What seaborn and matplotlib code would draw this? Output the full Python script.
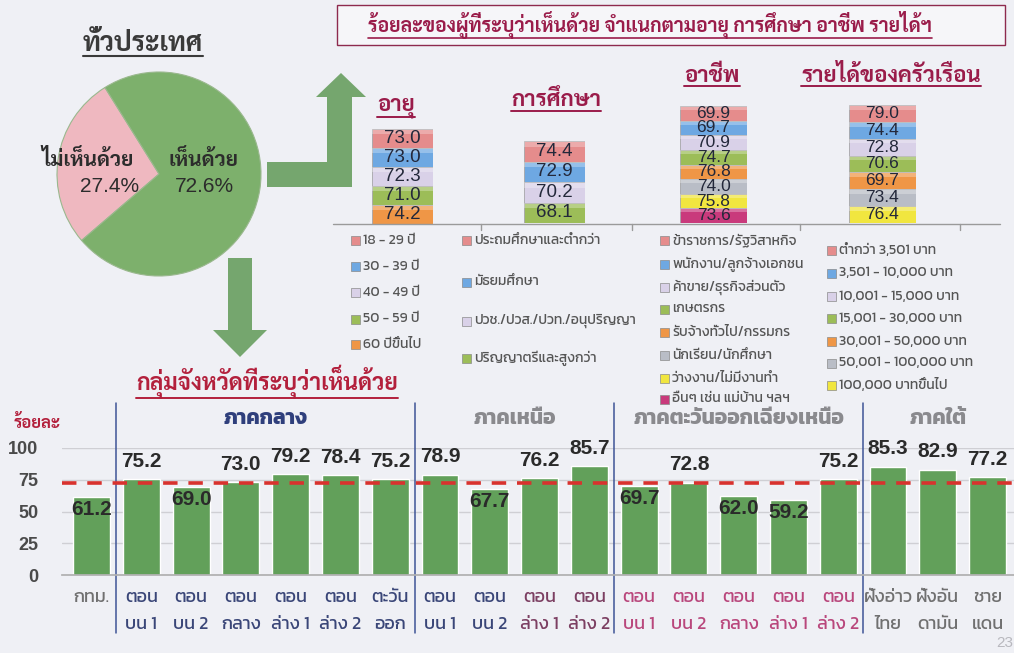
import matplotlib
matplotlib.use("Agg")
import matplotlib.pyplot as plt
import matplotlib.patches as mpatches
import matplotlib.transforms as mtransforms
from matplotlib import font_manager
import numpy as np
import pandas as pd
import seaborn as sns

# ---------------- data ----------------
pie_labels = ["เห็นด้วย", "ไม่เห็นด้วย"]
pie_values = [72.6, 27.4]

age_groups = ["18 - 29 ปี", "30 - 39 ปี", "40 - 49 ปี", "50 - 59 ปี", "60 ปีขึ้นไป"]
age_values = [73.0, 73.0, 72.3, 71.0, 74.2]

edu_groups = ["ประถมศึกษาและต่ำกว่า", "มัธยมศึกษา",
              "ปวช./ปวส./ปวท./อนุปริญญา", "ปริญญาตรีและสูงกว่า"]
edu_values = [74.4, 72.9, 70.2, 68.1]

occ_groups = ["ข้าราชการ/รัฐวิสาหกิจ", "พนักงาน/ลูกจ้างเอกชน", "ค้าขาย/ธุรกิจส่วนตัว",
              "เกษตรกร", "รับจ้างทั่วไป/กรรมกร", "นักเรียน/นักศึกษา",
              "ว่างงาน/ไม่มีงานทำ", "อื่นๆ เช่น แม่บ้าน ฯลฯ"]
occ_values = [69.9, 69.7, 70.9, 74.7, 76.8, 74.0, 75.8, 73.6]

inc_groups = ["ต่ำกว่า 3,501 บาท", "3,501 - 10,000 บาท", "10,001 - 15,000 บาท",
              "15,001 - 30,000 บาท", "30,001 - 50,000 บาท", "50,001 - 100,000 บาท",
              "100,000 บาทขึ้นไป"]
inc_values = [79.0, 74.4, 72.8, 70.6, 69.7, 73.4, 76.4]

province_groups = ["กทม.",
                   "ตอน\nบน 1", "ตอน\nบน 2", "ตอน\nกลาง", "ตอน\nล่าง 1", "ตอน\nล่าง 2", "ตะวัน\nออก",
                   "ตอน\nบน 1", "ตอน\nบน 2", "ตอน\nล่าง 1", "ตอน\nล่าง 2",
                   "ตอน\nบน 1", "ตอน\nบน 2", "ตอน\nกลาง", "ตอน\nล่าง 1", "ตอน\nล่าง 2",
                   "ฝั่งอ่าว\nไทย", "ฝั่งอัน\nดามัน", "ชาย\nแดน"]
province_region = ["กรุงเทพฯ"] + ["ภาคกลาง"] * 6 + ["ภาคเหนือ"] * 4 + \
                  ["ภาคตะวันออกเฉียงเหนือ"] * 5 + ["ภาคใต้"] * 3
province_values = [61.2, 75.2, 69.0, 73.0, 79.2, 78.4, 75.2,
                   78.9, 67.7, 76.2, 85.7,
                   69.7, 72.8, 62.0, 59.2, 75.2,
                   85.3, 82.9, 77.2]
region_names = ["ภาคกลาง", "ภาคเหนือ", "ภาคตะวันออกเฉียงเหนือ", "ภาคใต้"]
national_avg = pie_values[0]

# ---------------- style ----------------
sns.set_theme(style="white")
installed = {f.name for f in font_manager.fontManager.ttflist}


def pick(cands, fallback="DejaVu Sans"):
    for c in cands:
        if c in installed:
            return c
    return fallback


THAI_LOOP = pick(["Sarabun", "Noto Sans Thai Looped", "Niramit", "K2D", "Bai Jamjuree"])
THAI_PLAIN = pick(["Kanit", "Prompt", "Noto Sans Thai", "Mitr", "Bai Jamjuree"])
LATIN = "Liberation Sans"
plt.rcParams["font.family"] = [THAI_PLAIN, "DejaVu Sans"]

W, H = 1014, 653
BG = "#EFF0F5"
MAROON = "#9A1C4A"
NAVY = "#2F3F7C"
GREEN = "#62A05A"
CELL = ["#E58C8C", "#6EA8E2", "#D9D1E8", "#9CBD58", "#EF9646", "#B9BDC6", "#F1E63F", "#C93A7C"]

fig = plt.figure(figsize=(W / 100, H / 100), dpi=100, facecolor=BG)


def fx(x):
    return x / W


def fy(y):
    return 1 - y / H


underlined = []

# ---------------- national pie ----------------
t = fig.text(fx(143), fy(44), "ทั่วประเทศ", ha="center", va="center", fontsize=19,
             fontweight="bold", color="#3A3A3A", family=[THAI_LOOP, "DejaVu Sans"])
underlined.append((t, "#3A3A3A", 1.5))

r_px = 102
ax_pie = fig.add_axes([fx(159 - r_px), fy(174 + r_px), 2 * r_px / W, 2 * r_px / H])
ax_pie.set_facecolor("none")
ax_pie.pie([pie_values[1], pie_values[0]], colors=["#EFB8C0", "#7DB06C"],
           startangle=122, counterclock=True, radius=1,
           wedgeprops=dict(edgecolor="#9AB88E", linewidth=0.8))
ax_pie.set_xlim(-1, 1)
ax_pie.set_ylim(-1, 1)
ax_pie.set_aspect("auto")
ax_pie.axis("off")

for (lab, val, x, xn) in [(pie_labels[1], pie_values[1], 88, 110),
                          (pie_labels[0], pie_values[0], 203, 204)]:
    fig.text(fx(x), fy(160), lab, ha="center", va="center", fontsize=15, fontweight="bold",
             color="#2C2C2C", family=[THAI_LOOP, "DejaVu Sans"])
    fig.text(fx(xn), fy(186), f"{val:.1f}%", ha="center", va="center", fontsize=15,
             color="#2C2C2C", family=[LATIN])

# ---------------- arrows ----------------
up_arrow = [(267, 162), (327, 162), (327, 97), (316, 97), (341, 73), (366, 97),
            (352, 97), (352, 187), (267, 187)]
down_arrow = [(228, 258), (252, 258), (252, 330), (267, 330), (240, 357), (213, 330), (228, 330)]
for poly in (up_arrow, down_arrow):
    fig.patches.append(mpatches.Polygon([(fx(a), fy(b)) for a, b in poly], closed=True,
                                        transform=fig.transFigure, facecolor="#6EA267",
                                        edgecolor="none", alpha=0.95))

# ---------------- breakdown title ----------------
fig.patches.append(mpatches.Rectangle((fx(337), fy(45)), (1005 - 337) / W, 40 / H,
                                      transform=fig.transFigure, facecolor="#F6F6F9",
                                      edgecolor="#8E2A4E", linewidth=1.0))
t = fig.text(fx(650), fy(25), "ร้อยละของผู้ที่ระบุว่าเห็นด้วย จำแนกตามอายุ การศึกษา อาชีพ รายได้ฯ",
             ha="center", va="center", fontsize=14, fontweight="bold", color=MAROON,
             family=[THAI_LOOP, "DejaVu Sans"])
underlined.append((t, MAROON, 1.2))

# ---------------- stacked value cells ----------------
stacks = [
    ("อายุ", age_groups, age_values, (372, 433, 129, 224), (396, 107)),
    ("การศึกษา", edu_groups, edu_values, (524, 585, 141, 223), (556, 101)),
    ("อาชีพ", occ_groups, occ_values, (680, 747, 106, 223), (712, 76)),
    ("รายได้ของครัวเรือน", inc_groups, inc_values, (849, 916, 105, 223), (891, 76)),
]
for title, groups, values, (x0, x1, y0, y1), (tx, ty) in stacks:
    t = fig.text(fx(tx), fy(ty), title, ha="center", va="center", fontsize=16,
                 fontweight="bold", color=MAROON, family=[THAI_LOOP, "DejaVu Sans"])
    underlined.append((t, MAROON, 1.4))
    ax = fig.add_axes([fx(x0), fy(y1), (x1 - x0) / W, (y1 - y0) / H])
    ax.set_facecolor("none")
    n = len(values)
    fs = 13.5 if n <= 5 else 12.5
    # group 0 sits on top of the column
    for k, (g, v) in enumerate(zip(groups, values)):
        level = n - 1 - k
        ax.bar(0, 1, bottom=level, width=1, color=CELL[k], edgecolor="#A5A5A8", linewidth=0.6)
        ax.bar(0, 0.28, bottom=level + 0.72, width=1, color="white", alpha=0.28, linewidth=0)
        ax.text(0, level + 0.5, f"{v:.1f}", ha="center", va="center", fontsize=fs,
                color="#23283A", family=[LATIN])
    ax.set_xlim(-0.5, 0.5)
    ax.set_ylim(0, n)
    ax.axis("off")

# base line under the cells
fig.add_artist(plt.Line2D([fx(333), fx(1000)], [fy(224), fy(224)], transform=fig.transFigure,
                          color="#9A9A9A", lw=1.0))
for xt in (481, 632, 800, 960):
    fig.add_artist(plt.Line2D([fx(xt), fx(xt)], [fy(224), fy(230)], transform=fig.transFigure,
                              color="#9A9A9A", lw=1.0))

# ---------------- legends ----------------
legend_blocks = [
    (age_groups, 355, [240, 266, 292, 319, 345]),
    (edu_groups, 466, [241, 282, 321, 358]),
    (occ_groups, 664, [241, 264, 287, 309, 332, 355, 378, 399]),
    (inc_groups, 831, [250, 273, 296, 318, 341, 363, 385]),
]
for groups, lx, ys in legend_blocks:
    for k, (g, yy) in enumerate(zip(groups, ys)):
        fig.patches.append(mpatches.Rectangle((fx(lx - 4), fy(yy + 4.5)), 9 / W, 9 / H,
                                              transform=fig.transFigure, facecolor=CELL[k],
                                              edgecolor="#8A8A8A", linewidth=0.5))
        fig.text(fx(lx + 8), fy(yy), g, ha="left", va="center", fontsize=10,
                 color="#555555", family=[THAI_PLAIN, "DejaVu Sans"])

# ---------------- provincial groups bar chart ----------------
t = fig.text(fx(267), fy(382), "กลุ่มจังหวัดที่ระบุว่าเห็นด้วย", ha="center", va="center",
             fontsize=16.5, fontweight="bold", color="#B3203C", family=[THAI_LOOP, "DejaVu Sans"])
underlined.append((t, "#B3203C", 1.4))
fig.text(fx(37), fy(423), "ร้อยละ", ha="center", va="center", fontsize=12,
         fontweight="bold", color="#B3203C", family=[THAI_LOOP, "DejaVu Sans"])

df = pd.DataFrame({"key": [f"{r}|{i}" for i, r in enumerate(province_region)],
                   "group": province_groups, "region": province_region,
                   "value": province_values})

ax_b = fig.add_axes([fx(62), fy(575), (1014 - 62) / W, 127 / H])
ax_b.set_facecolor("none")
sns.barplot(data=df, x="key", y="value", order=list(df["key"]), color=GREEN,
            saturation=1, width=0.74, ax=ax_b)
ax_b.set_xlim(-0.593, 18.53)
ax_b.set_ylim(0, 100)
ax_b.set_yticks([0, 25, 50, 75, 100])
ax_b.set_yticklabels(["0", "25", "50", "75", "100"], fontsize=13, color="#4A4A4A",
                     fontweight="bold", family=[LATIN])
ax_b.tick_params(axis="y", length=0, pad=17)
ax_b.grid(axis="y", color="#CFCFD4", lw=1.0)
ax_b.set_axisbelow(True)
ax_b.set_xlabel("")
ax_b.set_ylabel("")
for s in ("top", "right", "left"):
    ax_b.spines[s].set_visible(False)
ax_b.spines["bottom"].set_color("#B0B0B0")

label_colors = []
for r, g in zip(province_region, province_groups):
    if r == "ภาคตะวันออกเฉียงเหนือ":
        label_colors.append("#B9477C")
    elif r == "ภาคเหนือ" and "ล่าง" in g:
        label_colors.append("#7C3F62")
    elif r in ("ภาคกลาง", "ภาคเหนือ"):
        label_colors.append("#3A4678")
    else:
        label_colors.append("#707070")

ax_b.set_xticks(range(len(province_groups)))
ax_b.set_xticklabels(province_groups, fontsize=13, linespacing=1.8,
                     family=[THAI_PLAIN, "DejaVu Sans"])
for lbl, c in zip(ax_b.get_xticklabels(), label_colors):
    lbl.set_color(c)
ax_b.tick_params(axis="x", length=0, pad=10)
ax_b.set_xticks(np.arange(len(province_groups) - 1) + 0.5, minor=True)
ax_b.tick_params(axis="x", which="minor", length=4, color="#B0B0B0", direction="out")

# value labels: below the average inside the bar, otherwise above it
for i, v in enumerate(province_values):
    if v < national_avg:
        ax_b.annotate(f"{v:.1f}", (i, v), xytext=(0, -2), textcoords="offset points",
                      ha="center", va="top", fontsize=15, fontweight="bold",
                      color="#2A2A2A", family=[LATIN])
    else:
        ax_b.annotate(f"{v:.1f}", (i, v), xytext=(0, 6), textcoords="offset points",
                      ha="center", va="bottom", fontsize=15, fontweight="bold",
                      color="#2A2A2A", family=[LATIN])

ax_b.axhline(national_avg, color="#D8322E", lw=2.6, dashes=(4, 3), zorder=5)

# region separators and headers
trans = mtransforms.blended_transform_factory(ax_b.transData, ax_b.transAxes)
y_top = (575 - 403) / 127
y_bot = (575 - 633) / 127
regions_arr = np.array(province_region)
for name in region_names:
    idx = np.where(regions_arr == name)[0]
    ax_b.text(idx.mean(), (575 - 419) / 127, name, transform=trans, ha="center", va="center",
              fontsize=15, fontweight="bold",
              color=NAVY if name == "ภาคกลาง" else "#8A8A8E",
              family=[THAI_PLAIN, "DejaVu Sans"], clip_on=False)
    ax_b.plot([idx.min() - 0.5] * 2, [y_bot, y_top], transform=trans, color="#3E5496",
              lw=1.1, clip_on=False)

fig.text(fx(1005), fy(643), "23", ha="center", va="center", fontsize=11, color="#B8B8BE",
         family=[LATIN])

# ---------------- underlines ----------------
fig.canvas.draw()
renderer = fig.canvas.get_renderer()
for txt, col, lw in underlined:
    bb = txt.get_window_extent(renderer)
    yb = bb.y0 + 1
    fig.add_artist(plt.Line2D([bb.x0 / W, bb.x1 / W], [yb / H, yb / H],
                              transform=fig.transFigure, color=col, lw=lw))

fig.savefig("out.png", dpi=100, facecolor=BG)
